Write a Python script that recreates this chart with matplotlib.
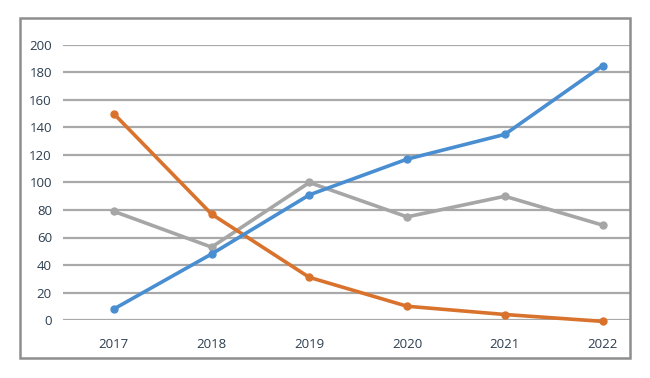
import matplotlib.pyplot as plt
from matplotlib.patches import Rectangle

years = ['2017', '2018', '2019', '2020', '2021', '2022']
blue_vals = [8, 48, 91, 117, 135, 185]
orange_vals = [150, 77, 31, 10, 4, -1]
gray_vals = [79, 53, 100, 75, 90, 69]
y_ticks = [0, 20, 40, 60, 80, 100, 120, 140, 160, 180, 200]

text_color = '#2c3e50'
grid_color = '#a9a9a9'

fig = plt.figure(figsize=(6.5, 3.78), dpi=100)
fig.patches.append(Rectangle((20 / 650, 1 - 358 / 378), 610 / 650, 340 / 378,
                             transform=fig.transFigure, fill=False,
                             edgecolor='#8e8e8e', linewidth=1.8, zorder=0))

ax = fig.add_axes([63 / 650, 1 - 320 / 378, 567 / 650, 275 / 378])
x = list(range(len(years)))

for vals, col in [(gray_vals, '#a6a6a6'), (orange_vals, '#d9722c'), (blue_vals, '#4a8ed2')]:
    ax.plot(x, vals, color=col, linewidth=2.6, marker='o', markersize=5,
            clip_on=False, zorder=3)

ax.set_ylim(0, 200)
ax.set_xlim(-0.52, 5.28)
ax.set_yticks(y_ticks)
ax.set_xticks(x)
ax.set_xticklabels(years)
ax.yaxis.grid(True, color=grid_color, linewidth=1.6)
ax.set_axisbelow(True)
for s in ax.spines.values():
    s.set_visible(False)
ax.tick_params(length=0, labelsize=9.5, colors=text_color, labelfontfamily='Open Sans')
ax.tick_params(axis='x', pad=13)
ax.tick_params(axis='y', pad=8)

fig.savefig('out.png', dpi=100)
